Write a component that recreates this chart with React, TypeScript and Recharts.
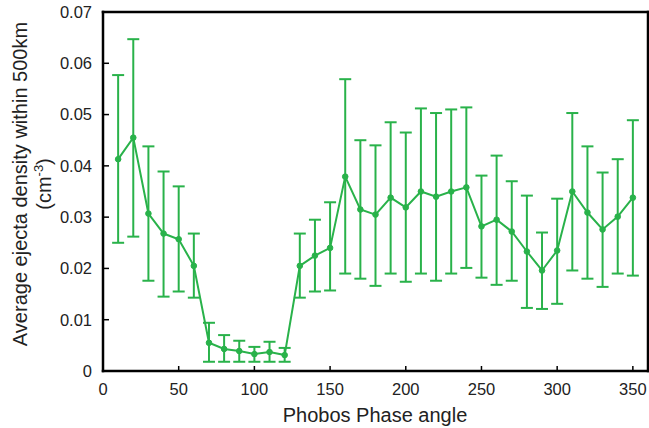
import React from 'react';
import { LineChart, Line, XAxis, YAxis, ErrorBar, Label } from 'recharts';

const angles = [10, 20, 30, 40, 50, 60, 70, 80, 90, 100, 110, 120, 130, 140, 150, 160, 170, 180, 190, 200, 210, 220, 230, 240, 250, 260, 270, 280, 290, 300, 310, 320, 330, 340, 350];
const means = [0.0413, 0.0455, 0.0307, 0.0268, 0.0257, 0.0205, 0.0055, 0.0043, 0.0039, 0.0033, 0.0037, 0.0031, 0.0205, 0.0225, 0.0240, 0.0379, 0.0315, 0.0305, 0.0338, 0.0319, 0.0350, 0.0340, 0.0350, 0.0358, 0.0282, 0.0295, 0.0272, 0.0233, 0.0196, 0.0235, 0.0350, 0.0309, 0.0276, 0.0301, 0.0338];
const upper = [0.0577, 0.0647, 0.0438, 0.0389, 0.0360, 0.0268, 0.0094, 0.0070, 0.0059, 0.0047, 0.0057, 0.0045, 0.0268, 0.0295, 0.0329, 0.0569, 0.0450, 0.0440, 0.0485, 0.0465, 0.0512, 0.0503, 0.0510, 0.0514, 0.0381, 0.0420, 0.0370, 0.0342, 0.0270, 0.0336, 0.0503, 0.0438, 0.0387, 0.0413, 0.0489];
const lower = [0.0250, 0.0262, 0.0176, 0.0145, 0.0155, 0.0143, 0.0018, 0.0018, 0.0018, 0.0018, 0.0018, 0.0018, 0.0143, 0.0155, 0.0157, 0.0190, 0.0180, 0.0166, 0.0190, 0.0174, 0.0190, 0.0176, 0.0190, 0.0201, 0.0182, 0.0168, 0.0176, 0.0123, 0.0121, 0.0131, 0.0196, 0.0180, 0.0164, 0.0190, 0.0186];

const xTicks = [0, 50, 100, 150, 200, 250, 300, 350];
const yTicks = [0, 0.01, 0.02, 0.03, 0.04, 0.05, 0.06, 0.07];

const data = angles.map((a, i) => ({
  angle: a,
  mean: means[i],
  err: [means[i] - lower[i], upper[i] - means[i]],
}));

const GREEN = '#29b24a';
const FONT = '"Liberation Sans", Arial, Helvetica, sans-serif';
const axisLine = { stroke: '#000', strokeWidth: 2.5, strokeLinecap: 'square' as const };
const tickLine = { stroke: '#000', strokeWidth: 1.5 };
const TICK_LEN = 6;
const X_MARGIN = 11;
const Y_MARGIN = 11;

const fmtY = (v: number) => (v === 0 ? '0' : v.toFixed(2));

const XTick = (props: any) => {
  const { x, y, payload } = props;
  const base = y - X_MARGIN;
  return (
    <g>
      <line x1={x} x2={x} y1={base} y2={base - TICK_LEN} stroke="#000" strokeWidth={1.5} />
      <text x={x} y={y} dy="0.71em" textAnchor="middle" fontSize={16.5} fontFamily={FONT} fill="#222">
        {payload.value}
      </text>
    </g>
  );
};

const YTick = (props: any) => {
  const { x, y, payload } = props;
  const base = x + Y_MARGIN;
  return (
    <g>
      <line x1={base} x2={base + TICK_LEN} y1={y} y2={y} stroke="#000" strokeWidth={1.5} />
      <text x={x} y={y} dy="0.355em" textAnchor="end" fontSize={16.5} fontFamily={FONT} fill="#222">
        {fmtY(payload.value)}
      </text>
    </g>
  );
};

const YTitle = () => (
  <g fontFamily={FONT} fontSize={20} fill="#222">
    <text x={27} y={184} textAnchor="middle" transform="rotate(-90 27 184)">
      Average ejecta density within 500km
    </text>
    <text x={51} y={184} textAnchor="middle" transform="rotate(-90 51 184)">
      (cm<tspan dy={-8} fontSize={13}>-3</tspan><tspan dy={8}>)</tspan>
    </text>
  </g>
);

const XTitle = () => (
  <text x={375} y={422} textAnchor="middle" fontFamily={FONT} fontSize={20} fill="#222">
    Phobos Phase angle
  </text>
);

export default function App() {
  return (
    <div style={{ position: 'absolute', left: 0, top: 0, width: 649, height: 428 }}>
      <LineChart width={649} height={428} data={data} margin={{ top: 12, right: 1, left: 0, bottom: 0 }}>
        <XAxis
          dataKey="angle"
          type="number"
          domain={[0, 360]}
          ticks={xTicks}
          height={57}
          axisLine={axisLine}
          tickLine={false}
          tickSize={0}
          tickMargin={X_MARGIN + 1}
          tick={<XTick />}
          allowDataOverflow
        >
          <Label content={() => <XTitle />} />
        </XAxis>
        <XAxis
          xAxisId="top"
          orientation="top"
          mirror
          dataKey="angle"
          type="number"
          domain={[0, 360]}
          ticks={xTicks}
          height={1}
          axisLine={axisLine}
          tickLine={tickLine}
          tickSize={TICK_LEN}
          tick={false}
          allowDataOverflow
        />
        <YAxis
          type="number"
          domain={[0, 0.07]}
          ticks={yTicks}
          width={103}
          axisLine={axisLine}
          tickLine={false}
          tickSize={0}
          tickMargin={Y_MARGIN}
          tick={<YTick />}
          allowDataOverflow
        >
          <Label content={() => <YTitle />} />
        </YAxis>
        <YAxis
          yAxisId="right"
          orientation="right"
          mirror
          type="number"
          domain={[0, 0.07]}
          ticks={yTicks}
          width={1}
          axisLine={axisLine}
          tickLine={tickLine}
          tickSize={TICK_LEN}
          tick={false}
          allowDataOverflow
        />
        <Line
          dataKey="mean"
          stroke={GREEN}
          strokeWidth={2}
          dot={{ r: 2.8, fill: GREEN, stroke: GREEN, strokeWidth: 1 }}
          isAnimationActive={false}
        >
          <ErrorBar dataKey="err" direction="y" width={6} stroke={GREEN} strokeWidth={2} isAnimationActive={false} />
        </Line>
      </LineChart>
    </div>
  );
}
